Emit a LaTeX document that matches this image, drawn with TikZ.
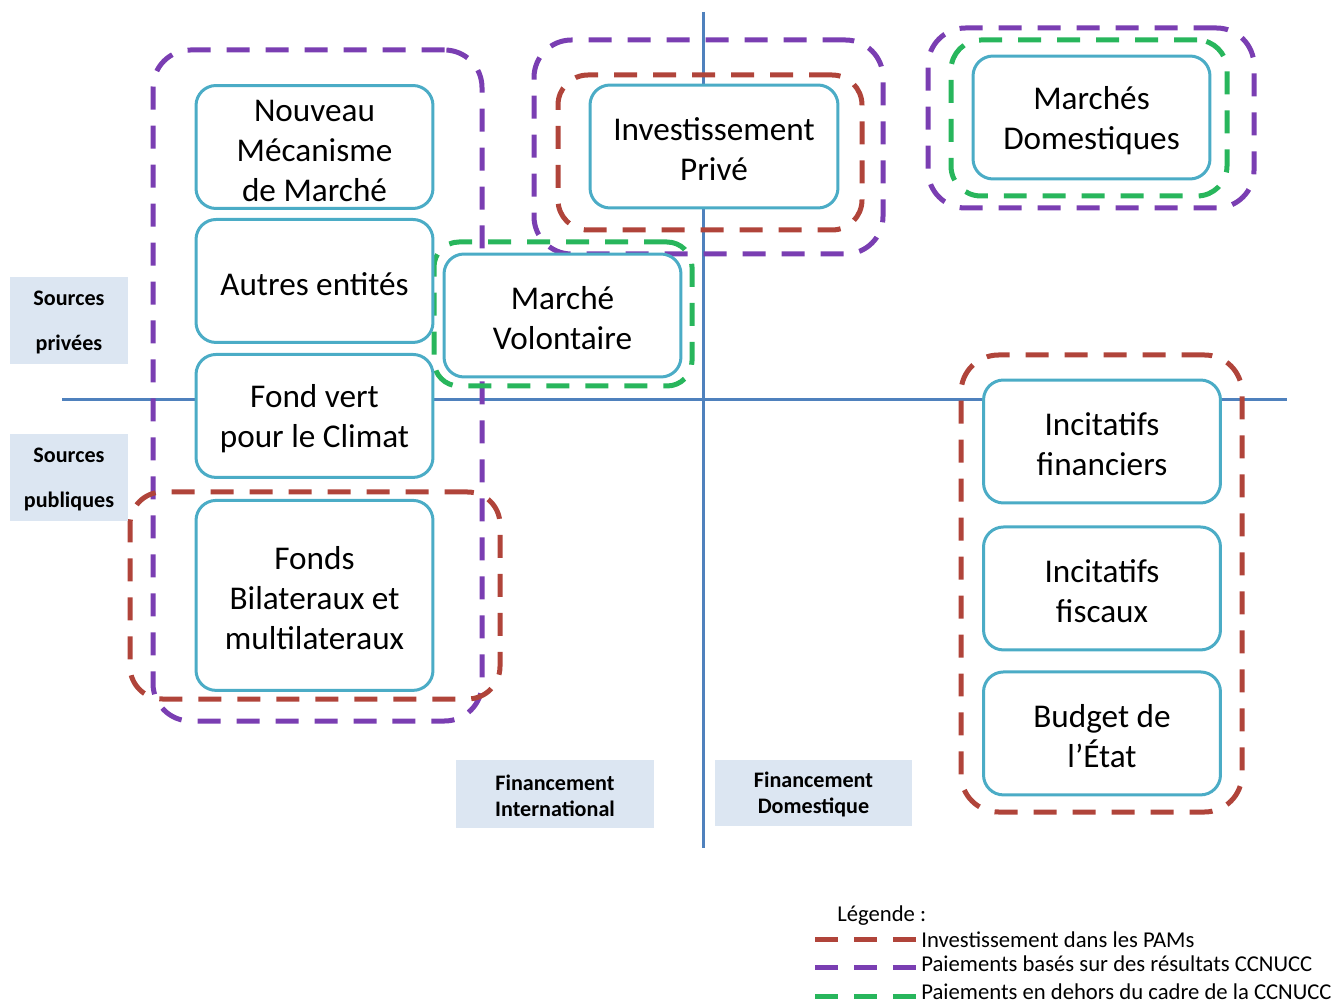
\documentclass[tikz,border=0pt]{standalone}
\usepackage{fontspec}
\setmainfont{Carlito}
\usetikzlibrary{positioning, fit}
\definecolor{PamRed}{RGB}{176, 68, 58}
\definecolor{ResPurple}{RGB}{122, 62, 178}
\definecolor{HorsGreen}{RGB}{40, 182, 92}
\definecolor{BoxCyan}{RGB}{75, 172, 198}
\definecolor{AxisBlue}{RGB}{79, 129, 189}
\definecolor{TagFill}{RGB}{220, 230, 242}
% extra room above the first line, so the text sits a little lower
\newcommand{\boxgap}{\rule{0pt}{16.5pt}}
\newcommand{\taggap}{\rule{0pt}{10.6pt}}

\begin{document}
\begin{tikzpicture}[
        x=0.02cm, y=-0.02cm,
        source/.style={rectangle, rounded corners=0.4cm, draw=BoxCyan, line width=0.06cm, fill=white, minimum width=4.74cm, minimum height=2.46cm, inner sep=0pt, align=center, font=\fontsize{18.9}{22.7}\selectfont},
        dashgroup/.style={rectangle, rounded corners=0.75cm, line width=0.1cm, dash pattern=on 0.46cm off 0.32cm, inner sep=0pt},
        pam/.style={dashgroup, draw=PamRed},
        res/.style={dashgroup, draw=ResPurple},
        hors/.style={dashgroup, draw=HorsGreen},
        axisline/.style={draw=AxisBlue, line width=0.06cm},
        tagbox/.style={rectangle, fill=TagFill, inner sep=0pt, align=center},
        legline/.style={line width=0.1cm, dash pattern=on 0.46cm off 0.32cm},
        legtext/.style={anchor=west, inner sep=0pt, text height=8.4pt, text depth=0pt, font=\fontsize{12.9}{15}\selectfont}
    ]
        \useasboundingbox (0,0) rectangle (1343,1003);

        % axes
        \coordinate (axN) at (703,12);
        \coordinate (axS) at (703,848);
        \coordinate (axW) at (62,400);
        \coordinate (axE) at (1287,400);
        \draw [axisline] (axN) -- (axS);
        \draw [axisline] (axW) -- (axE);

        % dashed groups
        \node (resL) [res, fit={(153,50) (482,721)}] {};
        \node (resM) [res, fit={(534,40) (883,254)}] {};
        \node (resR) [res, fit={(928,28) (1254,208)}] {};
        \node (pamL) [pam, rounded corners=0.65cm, fit={(130,492) (500,699)}] {};
        \node (pamM) [pam, rounded corners=0.6cm, fit={(558,75) (862,230)}] {};
        \node (pamR) [pam, fit={(961,355) (1242,812)}] {};
        \node (horsV) [hors, rounded corners=0.5cm, fit={(434,242) (692,386)}] {};
        \node (horsR) [hors, rounded corners=0.6cm, fit={(951,40) (1227,196)}] {};

        % sources
        \node (nmm) [source] at (314.5,147) {\boxgap Nouveau\\Mécanisme\\de Marché};
        \node (autres) [source, below=0.16cm of nmm] {\boxgap Autres entités};
        \node (fvc) [source, below=0.18cm of autres] {\boxgap Fond vert\\pour le Climat};
        \node (fonds) [source, minimum height=3.8cm, below=0.4cm of fvc] {\boxgap Fonds\\Bilateraux et\\multilateraux};
        \node (prive) [source, minimum width=4.96cm] at (714,146.5) {\boxgap Investissement\\Privé};
        \node (volont) [source] at (562.5,315.5) {\boxgap Marché\\Volontaire};
        \node (mdom) [source] at (1091.5,117.5) {\boxgap Marchés\\Domestiques};
        \node (incfin) [source] at (1102,441.5) {\boxgap Incitatifs\\financiers};
        \node (incfisc) [source, below=0.42cm of incfin] {\boxgap Incitatifs\\fiscaux};
        \node (budget) [source, below=0.38cm of incfisc] {\boxgap Budget de\\l’État};

        % axis tags
        \node (tPriv) [tagbox, minimum width=2.36cm, minimum height=1.74cm, font=\bfseries\fontsize{12.6}{25.5}\selectfont] at (69,320.5) {\taggap Sources\\privées};
        \node (tPub) [tagbox, minimum width=2.36cm, minimum height=1.74cm, font=\bfseries\fontsize{12.6}{25.5}\selectfont] at (69,477.5) {\taggap Sources\\publiques};
        \node (tInt) [tagbox, minimum width=3.96cm, minimum height=1.36cm, font=\bfseries\fontsize{12.6}{14.7}\selectfont] at (555,794) {\taggap Financement\\International};
        \node (tDom) [tagbox, minimum width=3.94cm, minimum height=1.32cm, font=\bfseries\fontsize{12.6}{14.7}\selectfont] at (813.5,793) {\taggap Financement\\Domestique};

        % legend
        \node (legTitle) [legtext] at (837,914.5) {Légende :};
        \node (legPam) [legtext] at (921,940) {Investissement dans les PAMs};
        \node (legRes) [legtext] at (921,964.5) {Paiements basés sur des résultats CCNUCC};
        \node (legHors) [legtext] at (921,992.5) {Paiements en dehors du cadre de la CCNUCC};
        \coordinate (lp) at (815,939);
        \coordinate (lr) at (815,967);
        \coordinate (lh) at (815,996);
        \draw [legline, PamRed] (lp) -- (lp -| legPam.west);
        \draw [legline, ResPurple] (lr) -- (lr -| legRes.west);
        \draw [legline, HorsGreen] (lh) -- (lh -| legHors.west);
    \end{tikzpicture}
\end{document}
